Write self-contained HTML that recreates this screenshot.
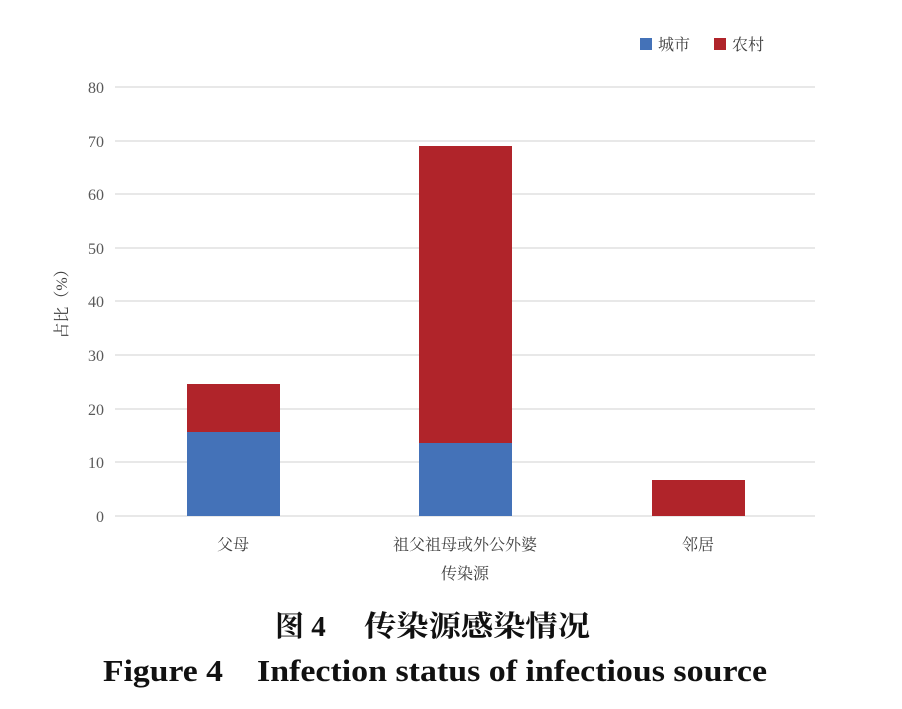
<!DOCTYPE html>
<html><head><meta charset="utf-8"><style>
body{margin:0;background:#fff;width:902px;height:704px;overflow:hidden}
</style></head><body>
<svg width="902" height="704" xmlns="http://www.w3.org/2000/svg" font-family="Liberation Serif, Noto Serif CJK SC, serif">
<g stroke="#d9d9d9" stroke-width="1.2">
<line x1="115" x2="815" y1="87" y2="87"/><line x1="115" x2="815" y1="141" y2="141"/>
<line x1="115" x2="815" y1="194" y2="194"/><line x1="115" x2="815" y1="248" y2="248"/>
<line x1="115" x2="815" y1="301" y2="301"/><line x1="115" x2="815" y1="355" y2="355"/>
<line x1="115" x2="815" y1="409" y2="409"/><line x1="115" x2="815" y1="462" y2="462"/>
<line x1="115" x2="815" y1="516" y2="516"/>
</g>
<g font-size="16" fill="#595959" text-anchor="end">
<text x="104" y="93">80</text><text x="104" y="147">70</text><text x="104" y="200">60</text>
<text x="104" y="254">50</text><text x="104" y="307">40</text><text x="104" y="361">30</text>
<text x="104" y="415">20</text><text x="104" y="468">10</text><text x="104" y="522">0</text>
</g>
<rect x="187" y="432" width="93" height="84" fill="#4472b8"/>
<rect x="187" y="384" width="93" height="48" fill="#b0242a"/>
<rect x="419" y="443" width="93" height="73" fill="#4472b8"/>
<rect x="419" y="146" width="93" height="297" fill="#b0242a"/>
<rect x="652" y="480" width="93" height="36" fill="#b0242a"/>
<g font-size="16" fill="#404040" text-anchor="middle">
<text x="233" y="550">父母</text>
<text x="465" y="550">祖父祖母或外公外婆</text>
<text x="698" y="550">邻居</text>
<text x="465" y="579">传染源</text>
<text transform="translate(67,300) rotate(-90)">占比（%）</text>
</g>
<rect x="640" y="38" width="12" height="12" fill="#4472b8"/>
<text x="658" y="50" font-size="16" fill="#404040">城市</text>
<rect x="714" y="38" width="12" height="12" fill="#b0242a"/>
<text x="732" y="50" font-size="16" fill="#404040">农村</text>
<text x="275" y="636" font-size="29" font-weight="bold" fill="#111">图 4</text>
<text x="364" y="636" font-size="29" font-weight="bold" fill="#111" textLength="226" lengthAdjust="spacingAndGlyphs">传染源感染情况</text>
<text x="103" y="681" font-size="31" font-weight="bold" fill="#111" textLength="120" lengthAdjust="spacingAndGlyphs">Figure 4</text>
<text x="257" y="681" font-size="31" font-weight="bold" fill="#111" textLength="510" lengthAdjust="spacingAndGlyphs">Infection status of infectious source</text>
</svg>
</body></html>
